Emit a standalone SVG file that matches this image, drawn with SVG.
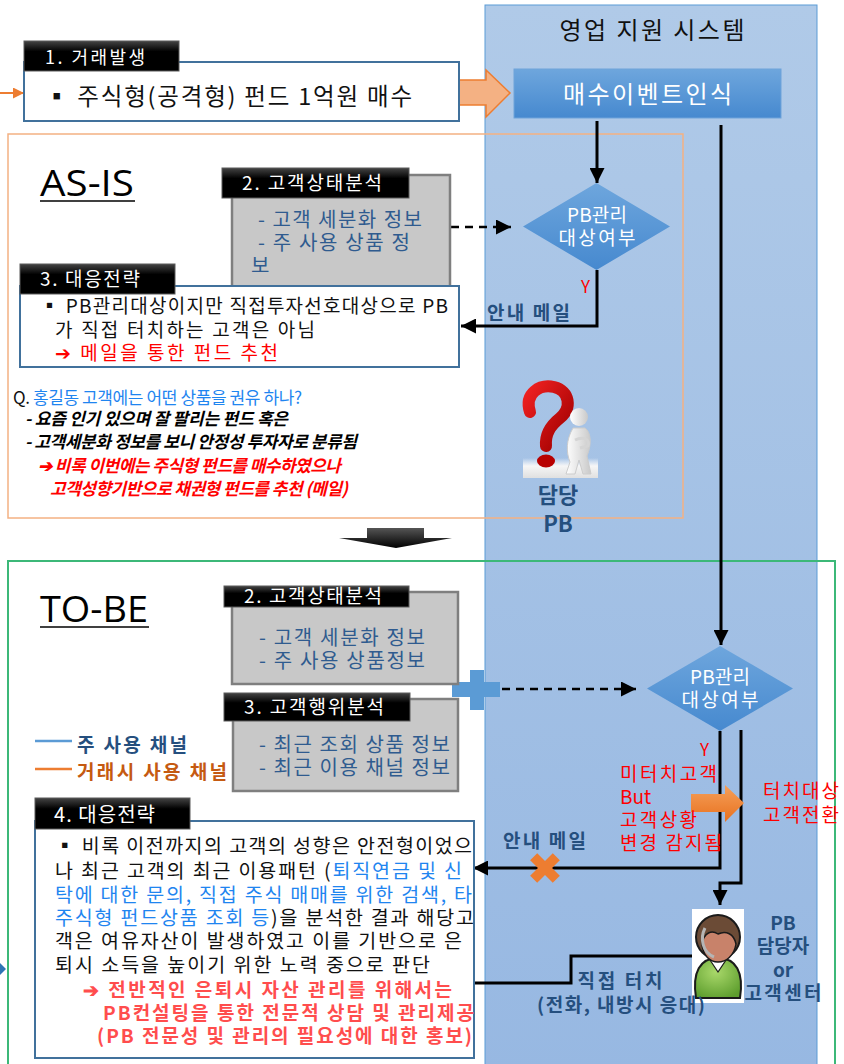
<svg xmlns="http://www.w3.org/2000/svg" width="844" height="1064" viewBox="0 0 844 1064">
  <defs>
    <style>
      text { font-family: "Noto Sans CJK KR", "Noto Sans", sans-serif; }
      .lbl { fill: #ffffff; font-size: 19px; }
      .lblbox { fill: url(#gLabel); stroke: #5a5a5a; stroke-width: 1; }
      .gray { fill: #c8c8c8; stroke: #7f7f7f; stroke-width: 2.5; }
      .outline { fill: #ffffff; stroke: #41719c; stroke-width: 2; }
      .gtxt { fill: #2f5b8f; font-size: 20px; }
      .body { fill: #111111; font-size: 19.5px; }
      .navy { fill: #254f7e; font-weight: bold; font-size: 19px; }
      .big { font-size: 22px; }
      .red { fill: #ff0000; }
      .blue { fill: #1f85f0; }
      .head { font-family: "Open Sans", "Noto Sans", sans-serif; font-size: 36px; fill: #000; }
      .conn { fill: none; stroke: #000; stroke-width: 3; }
      .dash { fill: none; stroke: #000; stroke-width: 2.5; stroke-dasharray: 8 6; }
      .dtxt { fill: #ffffff; font-size: 19px; }
      .q { font-size: 17px; }
      .qi { font-size: 17px; font-weight: bold; font-style: italic; }
      .rtx { fill: #ff0000; font-size: 19px; }
    </style>
    <linearGradient id="gPanel" x1="0" y1="0" x2="0" y2="1">
      <stop offset="0" stop-color="#b0cae8"/>
      <stop offset="1" stop-color="#97b8e2"/>
    </linearGradient>
    <linearGradient id="gBlue" x1="0" y1="0" x2="0" y2="1">
      <stop offset="0" stop-color="#6ea6dd"/>
      <stop offset="1" stop-color="#4689cf"/>
    </linearGradient>
    <linearGradient id="gLabel" x1="0" y1="0" x2="0" y2="1">
      <stop offset="0" stop-color="#444444"/>
      <stop offset="0.35" stop-color="#000000"/>
      <stop offset="1" stop-color="#000000"/>
    </linearGradient>
    <linearGradient id="gDown" x1="0" y1="0" x2="0" y2="1">
      <stop offset="0" stop-color="#555555"/>
      <stop offset="1" stop-color="#000000"/>
    </linearGradient>
    <linearGradient id="gOrange" x1="0" y1="0" x2="0" y2="1">
      <stop offset="0" stop-color="#f5a05a"/>
      <stop offset="1" stop-color="#e8711f"/>
    </linearGradient>
    <linearGradient id="gGround" x1="0" y1="0" x2="0" y2="1">
      <stop offset="0" stop-color="#ffffff" stop-opacity="0"/>
      <stop offset="0.4" stop-color="#f6f6f6"/>
      <stop offset="1" stop-color="#e0e0e0"/>
    </linearGradient>
    <linearGradient id="gQ" x1="0" y1="0" x2="1" y2="1">
      <stop offset="0" stop-color="#ee2020"/>
      <stop offset="1" stop-color="#a00000"/>
    </linearGradient>
    <linearGradient id="gMan" x1="0" y1="0" x2="1" y2="0">
      <stop offset="0" stop-color="#ffffff"/>
      <stop offset="1" stop-color="#c9c9c9"/>
    </linearGradient>
    <radialGradient id="gShirt" cx="0.45" cy="0.35" r="0.7">
      <stop offset="0" stop-color="#a9d86a"/>
      <stop offset="1" stop-color="#5e9e2e"/>
    </radialGradient>
    <marker id="arr" viewBox="0 0 10 10" refX="10" refY="5" markerWidth="15" markerHeight="15" markerUnits="userSpaceOnUse" orient="auto">
      <path d="M0,0 L10,5 L0,10 Z" fill="#000"/>
    </marker>
    <marker id="arrO" viewBox="0 0 10 10" refX="10" refY="5" markerWidth="11" markerHeight="11" markerUnits="userSpaceOnUse" orient="auto">
      <path d="M0,0 L10,5 L0,10 Z" fill="#ed7d31"/>
    </marker>
  </defs>

  <rect width="844" height="1064" fill="#ffffff"/>

  <!-- system lane -->
  <g id="lane">
    <rect x="485" y="5" width="332" height="1070" fill="url(#gPanel)" stroke="#5b9bd5" stroke-width="1"/>
    <text x="652" y="39" font-size="24" text-anchor="middle" fill="#111" textLength="185" lengthAdjust="spacing">영업 지원 시스템</text>
  </g>

  <!-- AS-IS and TO-BE frames -->
  <g id="frames">
    <rect x="8" y="134" width="675" height="384" fill="none" stroke="#f4b183" stroke-width="1.5"/>
    <rect x="8" y="561" width="827" height="520" fill="none" stroke="#3cb878" stroke-width="2"/>
    <text class="head" x="40" y="196" textLength="94" lengthAdjust="spacingAndGlyphs">AS-IS</text>
    <line x1="40" y1="201" x2="135" y2="201" stroke="#000" stroke-width="1.5"/>
    <text class="head" x="40" y="622" textLength="108" lengthAdjust="spacingAndGlyphs">TO-BE</text>
    <line x1="40" y1="627" x2="149" y2="627" stroke="#000" stroke-width="1.5"/>
  </g>

  <!-- connectors -->
  <g id="connectors">
    <path d="M0,93 H24" fill="none" stroke="#ed7d31" stroke-width="2" marker-end="url(#arrO)"/>
    <path class="conn" d="M597,121 V183" marker-end="url(#arr)"/>
    <path class="dash" d="M423,227 H511" marker-end="url(#arr)"/>
    <path class="conn" d="M597,270 V326 H461" marker-end="url(#arr)"/>
    <path class="conn" d="M721,125 V645" marker-end="url(#arr)"/>
    <path class="dash" d="M502,689 H636" marker-end="url(#arr)"/>
    <path class="conn" d="M720,731 V868 H473" marker-end="url(#arr)"/>
    <path class="conn" d="M741,730 V883 H720 V905" marker-end="url(#arr)"/>
    <path class="conn" d="M692,956 H571 V983 H455" marker-end="url(#arr)"/>
    <!-- block arrow into the event node -->
    <path d="M452,80 H486 V70 L510,93 L486,117 V105 H452 Z" fill="#f4b183" stroke="#ed7d31" stroke-width="1.5"/>
    <!-- section transition arrow -->
    <path d="M367,528 H424 V538 H452 L396,548 L339,538 H367 Z" fill="url(#gDown)"/>
    <!-- plus joining the two analyses -->
    <path d="M470,670 H484 V682 H500 V697 H484 V710 H470 V697 H452 V682 H470 Z" fill="#5b9bd5"/>
    <!-- touch-target conversion arrow -->
    <path d="M691,794 H725 V785 L744,803 L725,822 V812 H691 Z" fill="url(#gOrange)"/>
    <!-- blocked mail cross -->
    <g transform="translate(545,868) rotate(45)">
      <rect x="-16" y="-5" width="32" height="10" fill="#ed7d31"/>
      <rect x="-5" y="-16" width="10" height="32" fill="#ed7d31"/>
    </g>
    <path d="M0,963 L6,969 L0,975 Z" fill="#2e75b6"/>
  </g>

  <!-- 1. trade event -->
  <g id="n1">
    <rect class="outline" x="24" y="62" width="435" height="59"/>
    <rect class="lblbox" x="24" y="41" width="155" height="30"/>
    <text class="lbl" x="45" y="64" style="font-size:18px" textLength="100" lengthAdjust="spacing">1. 거래발생</text>
    <text x="45" y="105" font-size="23.5" fill="#111" textLength="367" lengthAdjust="spacing">▪ 주식형(공격형) 펀드 1억원 매수</text>
  </g>

  <!-- event recognition -->
  <g id="event">
    <rect x="514" y="69" width="267" height="49" fill="url(#gBlue)" stroke="#6fa3da" stroke-width="1"/>
    <text x="563" y="103" font-size="24" fill="#fff" textLength="169" lengthAdjust="spacing">매수이벤트인식</text>
  </g>

  <!-- AS-IS decision -->
  <g id="asis-decision">
    <path d="M596.5,183 L670,226.5 L596.5,270 L523,226.5 Z" fill="url(#gBlue)"/>
    <text class="dtxt" x="597" y="222" text-anchor="middle" textLength="60" lengthAdjust="spacing">PB관리</text>
    <text class="dtxt" x="597" y="245" text-anchor="middle" textLength="77" lengthAdjust="spacing">대상여부</text>
    <text x="581" y="293" font-size="17" fill="#ff0000">Y</text>
    <text class="navy" x="487" y="320" textLength="83" lengthAdjust="spacing">안내 메일</text>
  </g>

  <!-- AS-IS 2. customer status -->
  <g id="asis-status">
    <rect class="gray" x="232" y="175" width="218" height="113"/>
    <rect class="lblbox" x="222" y="168" width="187" height="30"/>
    <text class="lbl" x="242" y="190" textLength="140" lengthAdjust="spacing">2. 고객상태분석</text>
    <text class="gtxt" x="258" y="227" textLength="164" lengthAdjust="spacing">- 고객 세분화 정보</text>
    <text class="gtxt" x="258" y="250" textLength="152" lengthAdjust="spacing">- 주 사용 상품 정</text>
    <text class="gtxt" x="251" y="273">보</text>
  </g>

  <!-- AS-IS 3. response -->
  <g id="asis-response">
    <rect class="outline" x="20" y="286" width="439" height="81"/>
    <rect class="lblbox" x="20" y="264" width="155" height="30"/>
    <text class="lbl" x="40" y="286" textLength="100" lengthAdjust="spacing">3. 대응전략</text>
    <text class="body" x="40" y="313" style="font-size:19px" textLength="408" lengthAdjust="spacing">▪ PB관리대상이지만 직접투자선호대상으로 PB</text>
    <text class="body" x="55" y="337" style="font-size:19px" textLength="260" lengthAdjust="spacing">가 직접 터치하는 고객은 아님</text>
    <text class="body red" x="55" y="360" style="font-size:19px" textLength="223" lengthAdjust="spacing">➔ 메일을 통한 펀드 추천</text>
  </g>

  <!-- AS-IS question -->
  <g id="asis-question">
    <text class="q" x="13" y="404" textLength="289" lengthAdjust="spacing"><tspan fill="#111">Q. </tspan><tspan class="blue">홍길동 고객에는 어떤 상품을 권유 하나?</tspan></text>
    <text class="qi" x="25" y="425" fill="#000" textLength="263" lengthAdjust="spacing">- 요즘 인기 있으며 잘 팔리는 펀드 혹은</text>
    <text class="qi" x="25" y="448" fill="#000" textLength="332" lengthAdjust="spacing">- 고객세분화 정보를 보니 안정성 투자자로 분류됨</text>
    <text class="qi" x="38" y="472" fill="#ff0000" textLength="303" lengthAdjust="spacing">➔ 비록 이번에는 주식형 펀드를 매수하였으나</text>
    <text class="qi" x="50" y="495" fill="#ff0000" textLength="298" lengthAdjust="spacing">고객성향기반으로 채권형 펀드를 추천 (메일)</text>
  </g>

  <!-- thinking PB figure -->
  <g id="pb-thinking">
    <rect x="523" y="458" width="75" height="20" fill="url(#gGround)"/>
    <path d="M530,412 C524,393 540,384 554,387 C570,391 572,408 560,418 C550,426 545,434 546,446" fill="none" stroke="url(#gQ)" stroke-width="12" stroke-linecap="round"/>
    <ellipse cx="546" cy="461" rx="9" ry="6.5" fill="#b80000"/>
    <circle cx="579" cy="417" r="9" fill="url(#gMan)"/>
    <path d="M573,428 C566,440 566,452 570,462 L566,474 L575,474 L579,460 L583,474 L591,474 L587,456 C592,444 591,432 585,428 Z" fill="url(#gMan)" stroke="#cccccc" stroke-width="1"/>
    <path d="M575,440 C584,436 590,440 588,446 L580,448" fill="none" stroke="#d5d5d5" stroke-width="3"/>
    <text class="navy big" x="558" y="503" text-anchor="middle">담당</text>
    <text class="navy big" x="558" y="532" text-anchor="middle">PB</text>
  </g>

  <!-- TO-BE 2. customer status -->
  <g id="tobe-status">
    <rect class="gray" x="232" y="592" width="226" height="92"/>
    <rect class="lblbox" x="224" y="586" width="185" height="21"/>
    <text class="lbl" x="244" y="603" textLength="138" lengthAdjust="spacing">2. 고객상태분석</text>
    <text class="gtxt" x="259" y="645" textLength="166" lengthAdjust="spacing">- 고객 세분화 정보</text>
    <text class="gtxt" x="259" y="668" textLength="166" lengthAdjust="spacing">- 주 사용 상품정보</text>
  </g>

  <!-- TO-BE 3. customer behaviour -->
  <g id="tobe-behaviour">
    <rect class="gray" x="233" y="699" width="225" height="92"/>
    <rect class="lblbox" x="224" y="693" width="186" height="28"/>
    <text class="lbl" x="244" y="714" textLength="140" lengthAdjust="spacing">3. 고객행위분석</text>
    <text class="gtxt" x="259" y="752" textLength="191" lengthAdjust="spacing">- 최근 조회 상품 정보</text>
    <text class="gtxt" x="259" y="775" textLength="191" lengthAdjust="spacing">- 최근 이용 채널 정보</text>
  </g>

  <!-- channel legend -->
  <g id="legend">
    <line x1="35" y1="741" x2="72" y2="741" stroke="#5b9bd5" stroke-width="2.5"/>
    <text class="navy" x="77" y="752" textLength="110" lengthAdjust="spacing">주 사용 채널</text>
    <line x1="35" y1="769" x2="72" y2="769" stroke="#ed7d31" stroke-width="2.5"/>
    <text x="77" y="779" font-size="19" font-weight="bold" fill="#c55a11" textLength="150" lengthAdjust="spacing">거래시 사용 채널</text>
  </g>

  <!-- TO-BE decision -->
  <g id="tobe-decision">
    <path d="M720,646 L793,688.5 L720,731 L647,688.5 Z" fill="url(#gBlue)"/>
    <text class="dtxt" x="720" y="684" text-anchor="middle" textLength="60" lengthAdjust="spacing">PB관리</text>
    <text class="dtxt" x="720" y="707" text-anchor="middle" textLength="77" lengthAdjust="spacing">대상여부</text>
    <text x="700" y="756" font-size="17" fill="#ff0000">Y</text>
    <text class="rtx" x="620" y="781" textLength="97" lengthAdjust="spacing">미터치고객</text>
    <text class="rtx" x="620" y="804">But</text>
    <text class="rtx" x="620" y="827" textLength="77" lengthAdjust="spacing">고객상황</text>
    <text class="rtx" x="620" y="850" textLength="102" lengthAdjust="spacing">변경 감지됨</text>
    <text class="rtx" x="763" y="798" textLength="76" lengthAdjust="spacing">터치대상</text>
    <text class="rtx" x="763" y="822" textLength="76" lengthAdjust="spacing">고객전환</text>
    <text class="navy" x="503" y="848" textLength="83" lengthAdjust="spacing">안내 메일</text>
  </g>

  <!-- PB / contact center agent -->
  <g id="agent">
    <rect x="692" y="909" width="52" height="94" fill="#ffffff"/>
    <path d="M696,998 C692,972 700,958 718,958 C736,958 744,972 740,998 Z" fill="url(#gShirt)" stroke="#1a1a1a" stroke-width="2"/>
    <path d="M710,960 L718,972 L726,960 Z" fill="#ffffff" stroke="#1a1a1a" stroke-width="1.2"/>
    <circle cx="718" cy="937" r="22" fill="#6b4b36" stroke="#1a1a1a" stroke-width="2"/>
    <path d="M702,944 C704,932 712,930 718,934 C726,930 734,934 736,944 C734,956 726,962 718,962 C710,962 703,956 702,944 Z" fill="#c8826a" stroke="#1a1a1a" stroke-width="1.5"/>
    <path d="M705,928 C700,938 702,952 714,957" fill="none" stroke="#b5b5b5" stroke-width="3"/>
    <text class="navy" x="783" y="930" text-anchor="middle">PB</text>
    <text class="navy" x="783" y="953" text-anchor="middle">담당자</text>
    <text class="navy" x="783" y="977" text-anchor="middle">or</text>
    <text class="navy" x="783" y="1000" text-anchor="middle" textLength="77" lengthAdjust="spacing">고객센터</text>
    <text class="navy" x="620" y="988" text-anchor="middle" textLength="85" lengthAdjust="spacing">직접 터치</text>
    <text class="navy" x="621" y="1012" text-anchor="middle" textLength="168" lengthAdjust="spacing">(전화, 내방시 응대)</text>
  </g>

  <!-- TO-BE 4. response -->
  <g id="tobe-response">
    <rect class="outline" x="35" y="821" width="439" height="237"/>
    <rect class="lblbox" x="35" y="798" width="155" height="31"/>
    <text class="lbl" x="54" y="822" style="font-size:20px" textLength="101" lengthAdjust="spacing">4. 대응전략</text>
    <text class="body" x="55" y="853" textLength="417" lengthAdjust="spacing">▪ 비록 이전까지의 고객의 성향은 안전형이었으</text>
    <text class="body" x="55" y="878" textLength="407" lengthAdjust="spacing">나 최근 고객의 최근 이용패턴 (<tspan class="blue">퇴직연금 및 신</tspan></text>
    <text class="body blue" x="55" y="902" textLength="417" lengthAdjust="spacing">탁에 대한 문의, 직접 주식 매매를 위한 검색, 타</text>
    <text class="body" x="55" y="925" textLength="419" lengthAdjust="spacing"><tspan class="blue">주식형 펀드상품 조회 등</tspan>)을 분석한 결과 해당고</text>
    <text class="body" x="55" y="948" textLength="407" lengthAdjust="spacing">객은 여유자산이 발생하였고 이를 기반으로 은</text>
    <text class="body" x="55" y="972" textLength="375" lengthAdjust="spacing">퇴시 소득을 높이기 위한 노력 중으로 판단</text>
    <g font-size="19" font-weight="bold" fill="#ff4d4d">
      <text x="83" y="997" textLength="369" lengthAdjust="spacing">➔ 전반적인 은퇴시 자산 관리를 위해서는</text>
      <text x="103" y="1020" textLength="371" lengthAdjust="spacing">PB컨설팅을 통한 전문적 상담 및 관리제공</text>
      <text x="97" y="1043" textLength="375" lengthAdjust="spacing">(PB 전문성 및 관리의 필요성에 대한 홍보)</text>
    </g>
  </g>
</svg>
